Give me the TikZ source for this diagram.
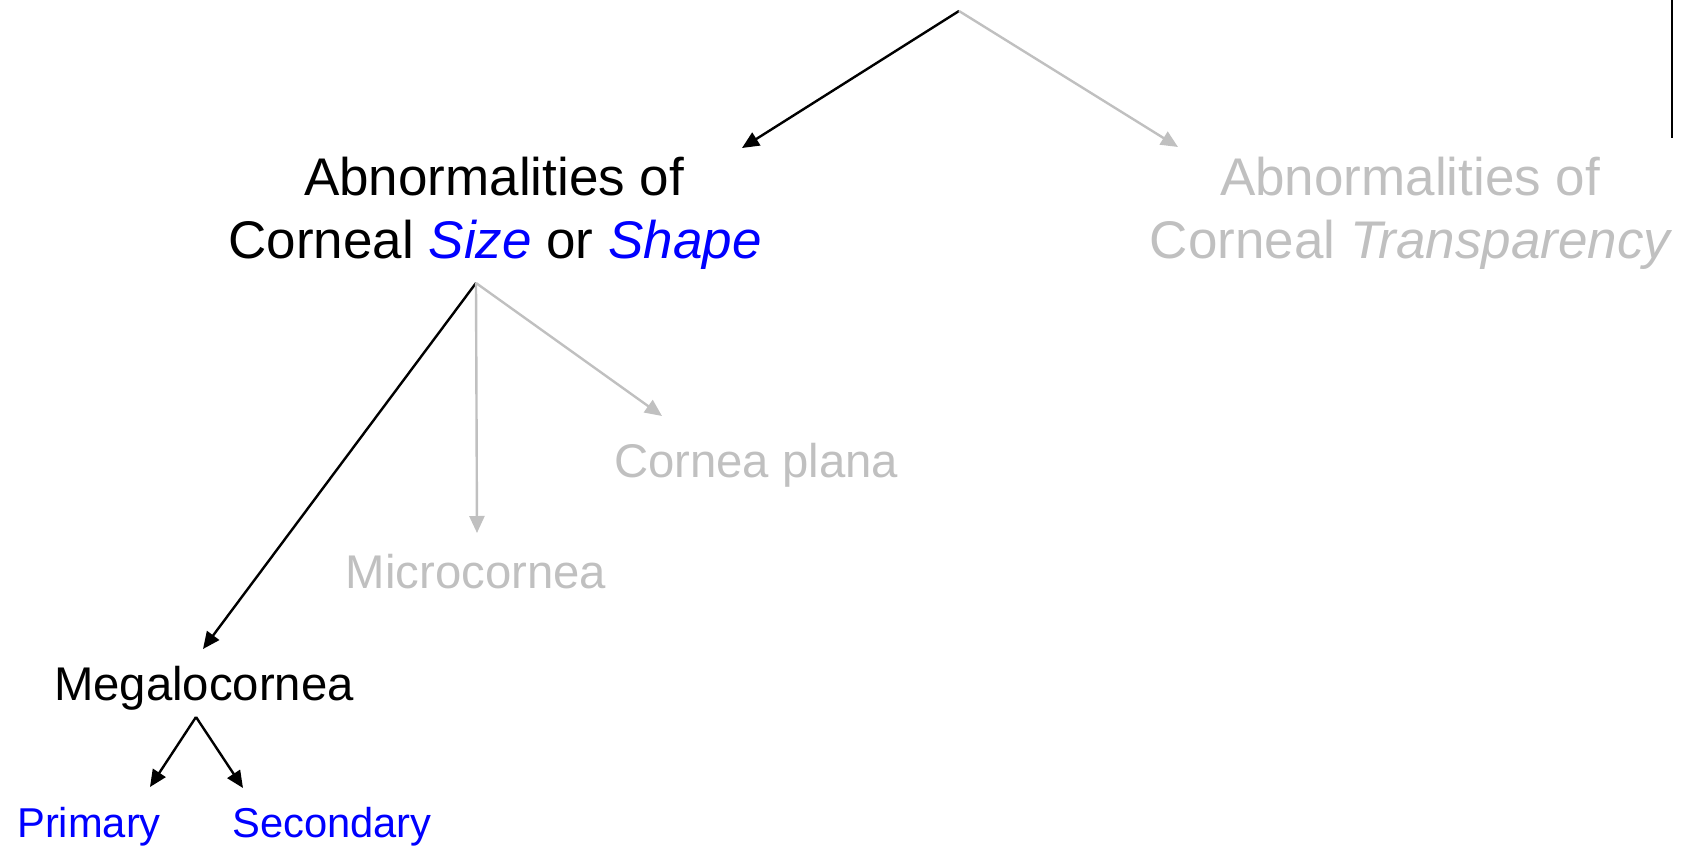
\documentclass[tikz,border=0pt]{standalone}
\usepackage{fontspec}
\setmainfont{Liberation Sans}
\usetikzlibrary{arrows.meta}

\definecolor{treeGray}{RGB}{192,192,192}
\definecolor{treeBlue}{RGB}{0,0,255}

\begin{document}
\begin{tikzpicture}[x=1pt, y=-1pt,
  bigtext/.style={font=\fontsize{53}{64}\selectfont, anchor=base, inner sep=0pt},
  midtext/.style={font=\fontsize{47.3}{57}\selectfont, anchor=base, inner sep=0pt},
  leaftext/.style={font=\fontsize{41.7}{50}\selectfont, anchor=base, inner sep=0pt, text=treeBlue},
  faded/.style={text=treeGray},
  link/.style={line width=2.4pt, -{Triangle[length=17pt, width=15pt]}}]
  \useasboundingbox (0,0) rectangle (1684,846);

  % headings
  \node[bigtext] (sizeTop) at (494,195) {Abnormalities of};
  \node[bigtext] (sizeBot) at (495,258) {Corneal \textcolor{treeBlue}{\itshape Size} or \textcolor{treeBlue}{\itshape Shape}};
  \node[bigtext, faded] (clearTop) at (1410,195) {Abnormalities of};
  \node[bigtext, faded] (clearBot) at (1410,258) {Corneal \itshape Transparency};

  % second level
  \node[midtext, faded] (plana) at (756,477) {Cornea plana};
  \node[midtext, faded] (micro) at (476,588) {Microcornea};
  \node[midtext] (mega) at (204,700) {Megalocornea};

  % leaves
  \node[leaftext] (primary) at (89,837) {Primary};
  \node[leaftext] (secondary) at (332,837) {Secondary};

  % arrow ends
  \coordinate (root) at (959,11);
  \coordinate (sizeIn) at (742,148);
  \coordinate (clearIn) at (1178,147);
  \coordinate (sizeOut) at (476,283);
  \coordinate (planaIn) at (662,416);
  \coordinate (microIn) at (477,533);
  \coordinate (megaIn) at (203,649);
  \coordinate (megaOut) at (196,717);
  \coordinate (primaryIn) at (150,787);
  \coordinate (secondaryIn) at (243,788);

  \draw[link] (root) -- (sizeIn);
  \draw[link, draw=treeGray, fill=treeGray] (root) -- (clearIn);
  \draw[link] (sizeOut) -- (megaIn);
  \draw[link, draw=treeGray, fill=treeGray] (sizeOut) -- (microIn);
  \draw[link, draw=treeGray, fill=treeGray] (sizeOut) -- (planaIn);
  \draw[link] (megaOut) -- (primaryIn);
  \draw[link] (megaOut) -- (secondaryIn);

  % edge mark on the right
  \draw[line width=1.8pt] (1672,0) -- (1672,138);
\end{tikzpicture}
\end{document}
